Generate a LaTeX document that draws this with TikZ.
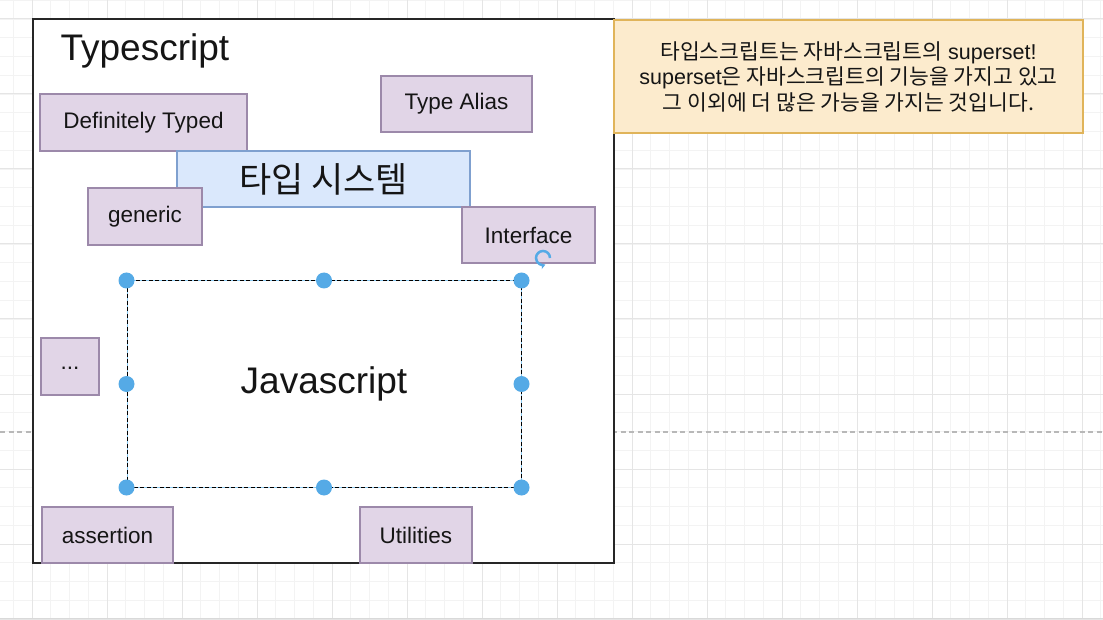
\documentclass[tikz,border=0pt]{standalone}
\usepackage{fontspec}
\setmainfont{Liberation Sans}
\newfontfamily\kr{Noto Sans CJK KR}
\usetikzlibrary{arrows.meta}
\definecolor{pfill}{HTML}{E1D5E7}
\definecolor{pstroke}{HTML}{9C89AA}
\definecolor{bfill}{HTML}{DAE8FC}
\definecolor{bstroke}{HTML}{7FA0CF}
\definecolor{nfill}{HTML}{FCEBCD}
\definecolor{nstroke}{HTML}{E0B45A}
\definecolor{txt}{HTML}{151515}
\definecolor{hblue}{HTML}{55AAE6}
\definecolor{selblue}{HTML}{8CCBF2}
\definecolor{gminor}{HTML}{F3F3F3}
\definecolor{gmajor}{HTML}{E5E5E5}
\begin{document}
\begin{tikzpicture}[x=1pt,y=-1pt,
  minorgrid/.style={draw=gminor, line width=0.9pt},
  majorgrid/.style={draw=gmajor, line width=1pt},
  pbox/.style={draw=pstroke, fill=pfill, line width=1.2pt, inner sep=0pt, text=txt, font=\fontsize{22.5}{27}\selectfont},
  bbox/.style={draw=bstroke, fill=bfill, line width=1.2pt, inner sep=0pt, text=txt, font=\kr\fontsize{35}{42}\selectfont},
  notebox/.style={draw=nstroke, fill=nfill, line width=1.4pt, inner sep=0pt, text=txt, align=center, font=\fontsize{21.5}{25.5}\selectfont},
  handle/.style={fill=hblue},
  bigtext/.style={text=txt, font=\fontsize{37}{44}\selectfont}
]
\useasboundingbox (0,0) rectangle (1103,620);
\fill[white] (0,0) rectangle (1103,620);
% grid
\foreach \k in {-1,...,57} {
  \pgfmathsetmacro\xx{32+18.75*\k}
  \draw[minorgrid] (\xx,0) -- (\xx,620);
}
\foreach \k in {-1,...,32} {
  \pgfmathsetmacro\yy{19+18.75*\k}
  \draw[minorgrid] (0,\yy) -- (1103,\yy);
}
\foreach \k in {0,...,14} {
  \pgfmathsetmacro\xx{32+75*\k}
  \draw[majorgrid] (\xx,0) -- (\xx,620);
}
\foreach \k in {0,...,8} {
  \pgfmathsetmacro\yy{19+75*\k}
  \draw[majorgrid] (0,\yy) -- (1103,\yy);
}
% page break line
\draw[draw=black!28, line width=1.2pt, dash pattern=on 5pt off 3.5pt] (0,432) -- (1103,432);
\draw[draw=black!15, line width=1.5pt] (0,618.5) -- (1103,618.5);

% outer typescript box
\node[draw=black!85, line width=1.6pt, fill=white, minimum width=581pt, minimum height=544pt, inner sep=0pt] (ts) at (323.5,291) {};
\node[bigtext, anchor=base west] (title) at (57,61) {Typescript};

% note
\node[notebox, minimum width=469pt, minimum height=113pt] (note) at (848.5,76.5)
  {{\kr 타입스크립트는 자바스크립트의} superset!\\
   superset{\kr 은 자바스크립트의 기능을 가지고 있고}\\
   {\kr 그 이외에 더 많은 가능을 가지는 것입니다.}};

% feature boxes
\node[pbox, minimum width=207pt, minimum height=57pt] (dt) at (143.5,122.5) {Definitely Typed};
\node[pbox, minimum width=151pt, minimum height=56pt] (ta) at (456.5,104) {Type Alias};
\node[bbox, minimum width=293pt, minimum height=56pt] (sys) at (323.5,179) {타입 시스템};
\node[pbox, minimum width=114pt, minimum height=57pt] (gen) at (145,216.5) {generic};
\node[pbox, minimum width=133pt, minimum height=56pt] (intf) at (528.5,235) {Interface};
\node[pbox, minimum width=58pt, minimum height=57pt] (dots) at (70,366.5) {\raisebox{-5pt}{...}};
\node[pbox, minimum width=131pt, minimum height=56pt] (asr) at (107.5,535) {assertion};
\node[pbox, minimum width=112pt, minimum height=56pt] (util) at (416,535) {Utilities};

% javascript (selected)
\node[draw=selblue, line width=1pt, minimum width=394pt, minimum height=206pt, inner sep=0pt] (jsel) at (324,384) {};
\node[draw=black, line width=1pt, dash pattern=on 4pt off 2.5pt, minimum width=394pt, minimum height=206pt, inner sep=0pt, bigtext] (js) at (324,384) {Javascript};
\foreach \a in {north west,north,north east,east,south east,south,south west,west} {
  \fill[handle] (js.\a) circle (8);
}
% rotate handle
\coordinate (rot) at (543,258);
\draw[hblue, line width=2.5pt, -{Stealth[length=5pt,width=6pt]}] ([shift={(7,0)}]rot) arc[start angle=0, end angle=-290, radius=7];
\end{tikzpicture}
\end{document}
